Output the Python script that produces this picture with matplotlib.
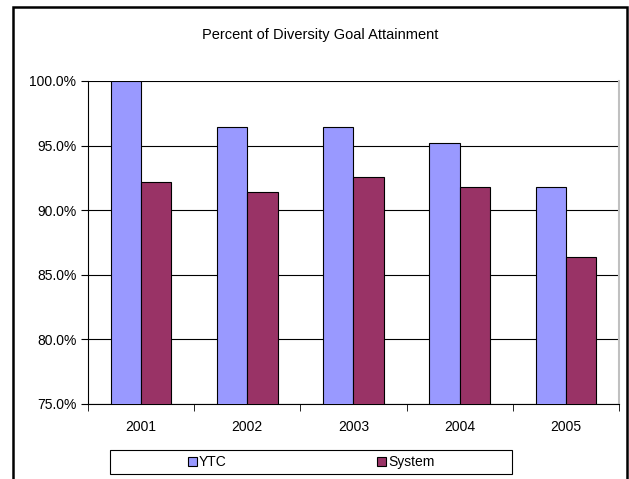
import numpy as np
import matplotlib.pyplot as plt
from matplotlib.patches import Rectangle

plt.rcParams['font.family'] = ['Liberation Sans', 'DejaVu Sans']

years = ['2001', '2002', '2003', '2004', '2005']
ytc = [100.0, 96.4, 96.4, 95.2, 91.8]
system = [92.2, 91.4, 92.6, 91.8, 86.4]

fig = plt.figure(figsize=(6.29, 4.79), dpi=100)
# outer chart frame (open at the bottom, as in the original screenshot)
fig.patches.append(Rectangle((0.0207, -0.02), 0.9761, 1.0064, transform=fig.transFigure,
                             fill=False, edgecolor='black', linewidth=1.8))

ax = fig.add_axes([0.140, 0.157, 0.844, 0.674])
x = np.arange(len(years))
w = 0.285
ax.bar(x - w / 2, ytc, w, color='#9999ff', edgecolor='black', linewidth=0.8,
       label='YTC', zorder=3)
ax.bar(x + w / 2, system, w, color='#993366', edgecolor='black', linewidth=0.8,
       label='System', zorder=3)

ax.set_ylim(75, 100)
ax.set_xlim(-0.5, len(years) - 0.5)
ax.set_yticks(np.arange(75, 100.1, 5))
ax.set_yticklabels(['%.1f%%' % v for v in np.arange(75, 100.1, 5)], fontsize=10)
ax.yaxis.grid(True, color='black', linewidth=0.8, zorder=0)
ax.set_axisbelow(True)

ax.set_xticks(x)
ax.set_xticklabels(years, fontsize=10)
ax.tick_params(axis='x', length=0, pad=12)
ax.set_xticks(np.arange(-0.5, len(years)), minor=True)
ax.tick_params(axis='x', which='minor', length=5, direction='out')
ax.tick_params(axis='y', length=5, direction='out')

ax.spines['top'].set_visible(False)
ax.spines['right'].set_color('#c0c0c0')
ax.spines['right'].set_linewidth(1.5)

fig.text(0.509, 0.927, 'Percent of Diversity Goal Attainment', fontsize=10.5,
         ha='center', va='center')

# legend box
fig.patches.append(Rectangle((0.175, 0.0104), 0.639, 0.05, transform=fig.transFigure,
                             fill=False, edgecolor='black', linewidth=0.8))
fig.legend(loc='center', bbox_to_anchor=(0.4945, 0.0354), ncol=2, fontsize=10,
           frameon=False, handlelength=0.65, handleheight=0.65,
           handletextpad=0.15, columnspacing=10.8, borderpad=0)

fig.savefig('out.png', dpi=100)
